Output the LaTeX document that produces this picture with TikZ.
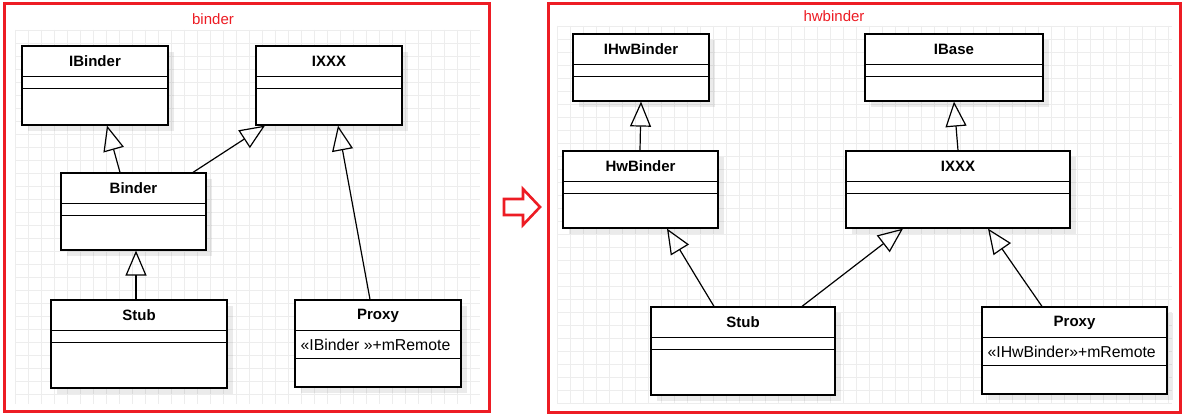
\documentclass[tikz,border=0pt]{standalone}
\usepackage{fontspec}
\setmainfont{Liberation Sans}
\usepackage{tikz}
\usetikzlibrary{arrows.meta,shadows}
\definecolor{framered}{RGB}{237,28,36}
\tikzstyle{frame} = [framered, line width=3pt]
\tikzstyle{classbox} = [draw, line width=1.2pt, fill=white, rectangle, inner sep=0pt,
  drop shadow={shadow xshift=6pt, shadow yshift=-6pt, opacity=0.08, fill=black}]
\tikzstyle{classtitle} = [font=\fontsize{15}{17}\selectfont\bfseries, inner sep=0pt]
\tikzstyle{classattr} = [font=\fontsize{15.8}{18}\selectfont, inner sep=0pt, anchor=west]
\tikzstyle{gridline} = [black!7, line width=0.7pt]
\tikzstyle{inherit} = [line width=1.2pt, -{Triangle[open, length=25pt, width=21pt, line width=1.2pt]}]

% id, x1, y1, x2, y2, title, attribute, second divider
\newcommand{\umlclass}[8]{%
  \node[classbox, minimum width={#4-#2}, minimum height={#5-#3}] (#1) at ({(#2+#4)/2},{(#3+#5)/2}) {};
  \node[classtitle] (#1-title) at ([yshift=-16pt]#1.north) {#6};
  \draw[line width=1.2pt] ([yshift=-31pt]#1.north west) -- ([yshift=-31pt]#1.north east);
  \draw[line width=1.2pt] ([yshift=-#8pt]#1.north west) -- ([yshift=-#8pt]#1.north east);
  \node[classattr] (#1-attr) at ([xshift=6pt, yshift=-45pt]#1.north west) {#7};
}

\begin{document}
\begin{tikzpicture}[x=1pt, y=-1pt]
  \useasboundingbox[fill=white] (0,0) rectangle (1184,419);

  % background grids
  \foreach \gx in {15,28,...,480} \draw[gridline] (\gx,30) -- (\gx,404);
  \foreach \gy in {30,43,...,404} \draw[gridline] (15,\gy) -- (480,\gy);
  \foreach \gx in {557,570,...,1172} \draw[gridline] (\gx,26) -- (\gx,404);
  \foreach \gy in {26,39,...,404} \draw[gridline] (557,\gy) -- (1172,\gy);

  % frames
  \draw[frame] (4,4) rectangle (489,412) node (binderframe) {};
  \draw[frame] (548,4) rectangle (1180,413) node (hwframe) {};
  \node[framered, font=\fontsize{15}{17}\selectfont] (bindertitle) at (213,19) {binder};
  \node[framered, font=\fontsize{15}{17}\selectfont] (hwtitle) at (834,16) {hwbinder};

  % hollow arrow between the two sides
  \draw[framered, line width=2.6pt, line join=miter]
    (504,199) -- (523,199) -- (523,189) -- (540,207) -- (523,225) -- (523,215) -- (504,215) -- cycle;

  % binder side
  \umlclass{ibinder}{22}{46}{168}{125}{IBinder}{}{43}
  \umlclass{ixxx}{256}{46}{402}{125}{IXXX}{}{43}
  \umlclass{binder}{61}{173}{206}{250}{Binder}{}{43}
  \umlclass{stub}{51}{300}{227}{388}{Stub}{}{43}
  \umlclass{proxy}{295}{300}{461}{387}{Proxy}{«IBinder »+mRemote}{59}

  \draw[inherit] ([xshift=-13.5pt]binder.north) -- ([xshift=12pt]ibinder.south);
  \draw[inherit] ([xshift=59.5pt]binder.north) -- ([xshift=-64pt]ixxx.south);
  \draw[inherit] ([xshift=-3pt]stub.north) -- ([xshift=2.5pt]binder.south);
  \draw[inherit] ([xshift=-8pt]proxy.north) -- ([xshift=9pt]ixxx.south);

  % hwbinder side
  \umlclass{ihwbinder}{573}{34}{709}{101}{IHwBinder}{}{43}
  \umlclass{ibase}{865}{34}{1043}{101}{IBase}{}{43}
  \umlclass{hwbinder}{563}{151}{718}{228}{HwBinder}{}{43}
  \umlclass{hwixxx}{846}{151}{1070}{228}{IXXX}{}{43}
  \umlclass{hwstub}{651}{307}{835}{395}{Stub}{}{43}
  \umlclass{hwproxy}{982}{307}{1167}{394}{Proxy}{«IHwBinder»+mRemote}{59}

  \draw[inherit] ([xshift=-0.5pt]hwbinder.north) -- ([xshift=0pt]ihwbinder.south);
  \draw[inherit] (hwixxx.north) -- (ibase.south);
  \draw[inherit] ([xshift=-29pt]hwstub.north) -- ([xshift=26.5pt]hwbinder.south);
  \draw[inherit] ([xshift=59pt]hwstub.north) -- ([xshift=-55pt]hwixxx.south);
  \draw[inherit] ([xshift=-32.5pt]hwproxy.north) -- ([xshift=30pt]hwixxx.south);
\end{tikzpicture}
\end{document}
